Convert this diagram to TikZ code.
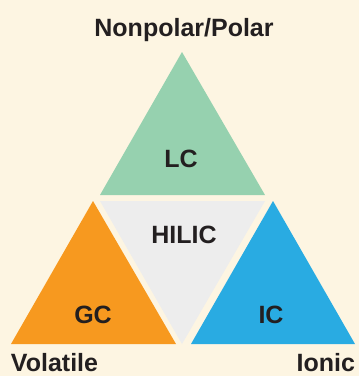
\documentclass[tikz,border=0pt]{standalone}
\usepackage{fontspec}
\setmainfont{Liberation Sans}
\definecolor{bgcream}{HTML}{FDF5E2}
\definecolor{lcgreen}{HTML}{96D1AF}
\definecolor{hilicgray}{HTML}{EDEDED}
\definecolor{gcorange}{HTML}{F7991F}
\definecolor{icblue}{HTML}{29ABE2}
\definecolor{txtdark}{HTML}{231F20}
\tikzset{
  lbl/.style={inner sep=0pt, outer sep=0pt, text=txtdark, font=\fontsize{25}{30}\selectfont\bfseries},
}
\begin{document}
\begin{tikzpicture}[x=1pt,y=-1pt]
\fill[bgcream] (0,0) rectangle (359,376);
\useasboundingbox (0,0) rectangle (359,376);
% triangles
\fill[lcgreen] (182,52) -- (265,195) -- (100,195) -- cycle;
\fill[hilicgray] (100,201) -- (265,201) -- (182,344) -- cycle;
\fill[gcorange] (93,201) -- (176,344) -- (11,344) -- cycle;
\fill[icblue] (273,201) -- (355,344) -- (191,344) -- cycle;
% labels
\node[lbl, anchor=base] (top) at (184,36) {Nonpolar/Polar};
\node[lbl, anchor=base] (lc) at (181,167) {LC};
\node[lbl, anchor=base] (hilic) at (184,243) {HILIC};
\node[lbl, anchor=base] (gc) at (93,323) {GC};
\node[lbl, anchor=base] (ic) at (271,323) {IC};
\node[lbl, anchor=base west] (vol) at (11,371) {Volatile};
\node[lbl, anchor=base east] (ion) at (355,371) {Ionic};
\end{tikzpicture}
\end{document}
